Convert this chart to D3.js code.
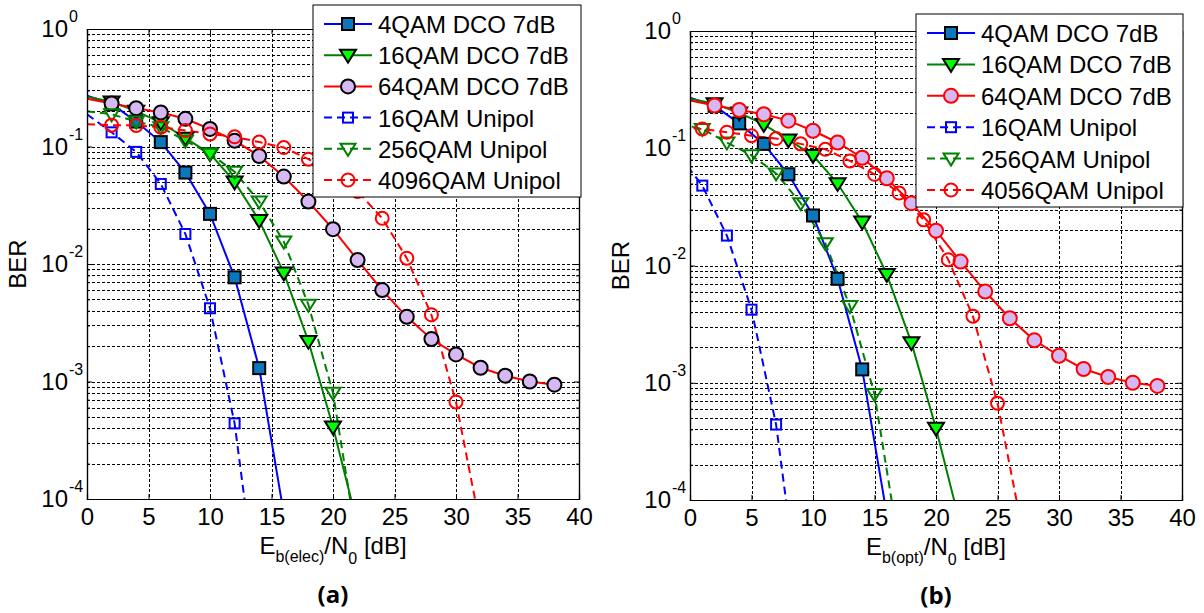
<!DOCTYPE html>
<html><head><meta charset="utf-8">
<script src="https://cdn.jsdelivr.net/npm/d3@7"></script>
<style>
body{margin:0;background:#fff}
text{font-family:"Liberation Sans",Arial,sans-serif;fill:#000}
</style>
</head><body>
<svg id="chart" width="1204" height="613"></svg>
<script>
// ---------------- data ----------------
const xTicks = [0,5,10,15,20,25,30,35,40];
const yDecades = [1e-4,1e-3,1e-2,1e-1,1];
const yExponents = ["-4","-3","-2","-1","0"];

const xDco4 = [0,2,4,6,8,10,12,14,16];
const ber4QamDco = [0.27,0.23,0.163,0.109,0.06,0.0267,0.0077,0.0013,0.000075];

const xDco16 = [0,2,4,6,8,10,12,14,16,18,20,22];
const ber16QamDco = [0.265,0.24,0.2,0.16,0.118,0.087,0.05,0.0235,0.0084,0.0022,0.00041,0.00006];

const xDco64 = [0,2,4,6,8,10,12,14,16,18,20,22,24,26,28,30,32,34,36,38];
const ber64QamDco = [0.255,0.232,0.212,0.195,0.172,0.141,0.112,0.083,0.0555,0.034,0.0198,0.0108,0.006,0.00355,0.0023,0.0017,0.00131,0.00112,0.001,0.00094];

const xElec16Uni = [0,2,4,6,8,10,12,14];
const xOpt16Uni  = [-5,-3,-1,1,3,5,7,9];
const ber16QamUni = [0.188,0.132,0.09,0.048,0.018,0.0042,0.00044,0.000011];

const xElec256Uni = [0,2,4,6,8,10,12,14,16,18,20,22];
const xOpt256Uni  = [-5,-3,-1,1,3,5,7,9,11,13,15,17];
const ber256QamUni = [0.2,0.188,0.163,0.146,0.112,0.087,0.061,0.034,0.0155,0.0045,0.0008,0.00004];

const xElec4096Uni = [0,2,4,6,8,10,12,14,16,18,20,22,24,26,28,30,32];
const xOpt4096Uni  = [-5,-3,-1,1,3,5,7,9,11,13,15,17,19,21,23,25,27];
const ber4096QamUni = [0.155,0.152,0.151,0.146,0.137,0.128,0.121,0.109,0.098,0.078,0.06,0.0415,0.0245,0.0112,0.0037,0.00067,0.000057];

const namesA = ["4QAM DCO 7dB","16QAM DCO 7dB","64QAM DCO 7dB","16QAM Unipol","256QAM Unipol","4096QAM Unipol"];
const namesB = ["4QAM DCO 7dB","16QAM DCO 7dB","64QAM DCO 7dB","16QAM Unipol","256QAM Unipol","4056QAM Unipol"];

// ---------------- styles ----------------
const BLUE="#0000ff", GREEN="#008000", RED="#ff0000";
function styles(circleEdge){
  return [
    {color:BLUE, dash:null, marker:"square", size:12, fill:"#0b78bd", edge:"#000"},
    {color:GREEN, dash:null, marker:"tri", size:16, fill:"#00ff00", edge:"#000"},
    {color:RED, dash:null, marker:"circle", size:14, fill:"#d6b8f2", edge:circleEdge},
    {color:BLUE, dash:"8,5", marker:"square", size:10, fill:"none", edge:BLUE},
    {color:GREEN, dash:"8,5", marker:"tri", size:15, fill:"none", edge:GREEN},
    {color:RED, dash:"8,5", marker:"circle", size:13, fill:"none", edge:RED}
  ];
}

const panels = [
  {id:"a", x0:87, x1:579, y0:29, y1:499, sub:"b(elec)", tag:"(a)", names:namesA,
   legend:{x:313,y:5,w:268,h:192},
   data:[[xDco4,ber4QamDco],[xDco16,ber16QamDco],[xDco64,ber64QamDco],
         [xElec16Uni,ber16QamUni],[xElec256Uni,ber256QamUni],[xElec4096Uni,ber4096QamUni]],
   st:styles("#000")},
  {id:"b", x0:690, x1:1182, y0:31, y1:500, sub:"b(opt)", tag:"(b)", names:namesB,
   legend:{x:916,y:14,w:267,h:193},
   data:[[xDco4,ber4QamDco],[xDco16,ber16QamDco],[xDco64,ber64QamDco],
         [xOpt16Uni,ber16QamUni],[xOpt256Uni,ber256QamUni],[xOpt4096Uni,ber4096QamUni]],
   st:styles(RED)}
];

const svg = d3.select("#chart");

function drawMarker(g, type, size, cx, cy, fill, edge){
  if(type==="square"){
    g.append("rect").attr("x",cx-size/2).attr("y",cy-size/2).attr("width",size).attr("height",size)
     .attr("fill",fill).attr("stroke",edge).attr("stroke-width",2);
  } else if(type==="circle"){
    g.append("circle").attr("cx",cx).attr("cy",cy).attr("r",size/2)
     .attr("fill",fill).attr("stroke",edge).attr("stroke-width",2);
  } else {
    const w=size, h=size*0.8;
    g.append("path").attr("d",`M${cx-w/2},${cy-h*0.42}L${cx+w/2},${cy-h*0.42}L${cx},${cy+h*0.58}Z`)
     .attr("fill",fill).attr("stroke",edge).attr("stroke-width",2).attr("stroke-linejoin","miter");
  }
}

panels.forEach(p=>{
  const x = d3.scaleLinear().domain([0,40]).range([p.x0,p.x1]);
  const y = d3.scaleLog().domain([1e-4,1]).range([p.y1,p.y0]);
  const g = svg.append("g");

  g.append("rect").attr("x",p.x0).attr("y",p.y0).attr("width",p.x1-p.x0).attr("height",p.y1-p.y0).attr("fill","#fff");

  // grid
  const xGrid = xTicks.filter(v=>v>0&&v<40);
  g.selectAll(null).data(xGrid).enter().append("line")
    .attr("x1",d=>Math.round(x(d))+0.5).attr("x2",d=>Math.round(x(d))+0.5).attr("y1",p.y0).attr("y2",p.y1)
    .attr("stroke","#000").attr("stroke-width",1).attr("stroke-dasharray","3,2");
  const yGrid=[];
  for(let e=-4;e<0;e++) for(let m=1;m<10;m++){ const v=m*Math.pow(10,e); if(v>1e-4) yGrid.push(v); }
  g.selectAll(null).data(yGrid).enter().append("line")
    .attr("x1",p.x0).attr("x2",p.x1).attr("y1",d=>Math.round(y(d))+0.5).attr("y2",d=>Math.round(y(d))+0.5)
    .attr("stroke","#000").attr("stroke-width",1).attr("stroke-dasharray","3,2");

  // clip
  svg.append("defs").append("clipPath").attr("id","clip"+p.id)
    .append("rect").attr("x",p.x0).attr("y",p.y0).attr("width",p.x1-p.x0).attr("height",p.y1-p.y0);
  const plot = g.append("g").attr("clip-path",`url(#clip${p.id})`);

  const line = d3.line().x(d=>x(d[0])).y(d=>y(d[1]));
  p.data.forEach((s,i)=>{
    const st=p.st[i];
    const pts = s[0].map((xv,k)=>[xv,s[1][k]]);
    plot.append("path").attr("d",line(pts)).attr("fill","none").attr("stroke",st.color)
      .attr("stroke-width",2).attr("stroke-dasharray",st.dash);
  });
  p.data.forEach((s,i)=>{
    const st=p.st[i];
    s[0].forEach((xv,k)=>{
      if(k===0) return;
      drawMarker(plot, st.marker, st.size, x(xv), y(s[1][k]), st.fill, st.edge);
    });
  });

  // axes
  const axB = g.append("g").attr("transform",`translate(0,${p.y1})`)
    .call(d3.axisBottom(x).tickValues(xTicks).tickSize(-5).tickPadding(8).tickFormat(d3.format("d")));
  axB.selectAll("text").attr("font-size",24).attr("font-family","Liberation Sans, Arial, sans-serif").attr("dy","0.74em");
  g.append("g").attr("transform",`translate(0,${p.y0})`)
    .call(d3.axisTop(x).tickValues(xTicks).tickSize(-5).tickFormat(""));
  const minorTicks = yGrid.filter(v=>!yDecades.includes(v));
  g.append("g").attr("transform",`translate(${p.x0},0)`)
    .call(d3.axisLeft(y).tickValues(yDecades).tickSize(-5).tickFormat(""));
  g.append("g").attr("transform",`translate(${p.x0},0)`)
    .call(d3.axisLeft(y).tickValues(minorTicks).tickSize(-3).tickFormat(""));
  g.append("g").attr("transform",`translate(${p.x1},0)`)
    .call(d3.axisRight(y).tickValues(yDecades).tickSize(-5).tickFormat(""));
  g.append("g").attr("transform",`translate(${p.x1},0)`)
    .call(d3.axisRight(y).tickValues(minorTicks).tickSize(-3).tickFormat(""));
  g.selectAll(".domain").attr("stroke","#000").attr("stroke-width",1.2);
  g.selectAll(".tick line").attr("stroke","#000");

  // y tick labels 10^e
  yDecades.forEach((v,i)=>{
    const ty = y(v);
    g.append("text").attr("x",p.x0-19).attr("y",ty+8).attr("text-anchor","end").attr("font-size",24).text("10");
    g.append("text").attr("x",p.x0-18).attr("y",ty-7).attr("text-anchor","start").attr("font-size",16).text(yExponents[i]);
  });

  // axis titles
  const cx=(p.x0+p.x1)/2;
  const xt = g.append("text").attr("x",cx).attr("y",p.y1+55).attr("text-anchor","middle").attr("font-size",24);
  xt.append("tspan").text("E");
  xt.append("tspan").attr("font-size",16).attr("dy",8).text(p.sub);
  xt.append("tspan").attr("dy",-8).text("/N");
  xt.append("tspan").attr("font-size",16).attr("dy",10).text("0");
  xt.append("tspan").attr("dy",-10).text(" [dB]");

  g.append("text").attr("transform",`translate(${p.x0-61},${(p.y0+p.y1)/2}) rotate(-90)`)
    .attr("text-anchor","middle").attr("font-size",24).text("BER");

  g.append("text").attr("x",cx).attr("y",p.y1+104).attr("text-anchor","middle")
    .attr("font-size",24).attr("font-weight","bold").style("font-family","'Open Sans',sans-serif").text(p.tag);

  // legend
  const L=p.legend;
  const lg = g.append("g");
  lg.append("rect").attr("x",L.x).attr("y",L.y).attr("width",L.w).attr("height",L.h)
    .attr("fill","#fff").attr("stroke","#000").attr("stroke-width",1);
  const rowH=(L.h-36)/5;
  p.names.forEach((nm,i)=>{
    const st=p.st[i];
    const ry=L.y+19+i*rowH;
    lg.append("line").attr("x1",L.x+11).attr("x2",L.x+59).attr("y1",ry).attr("y2",ry)
      .attr("stroke",st.color).attr("stroke-width",2).attr("stroke-dasharray",st.dash);
    drawMarker(lg, st.marker, st.size, L.x+35, ry, st.fill, st.edge);
    lg.append("text").attr("x",L.x+65).attr("y",ry+9).attr("font-size",24).text(nm);
  });
});
</script>
</body></html>
